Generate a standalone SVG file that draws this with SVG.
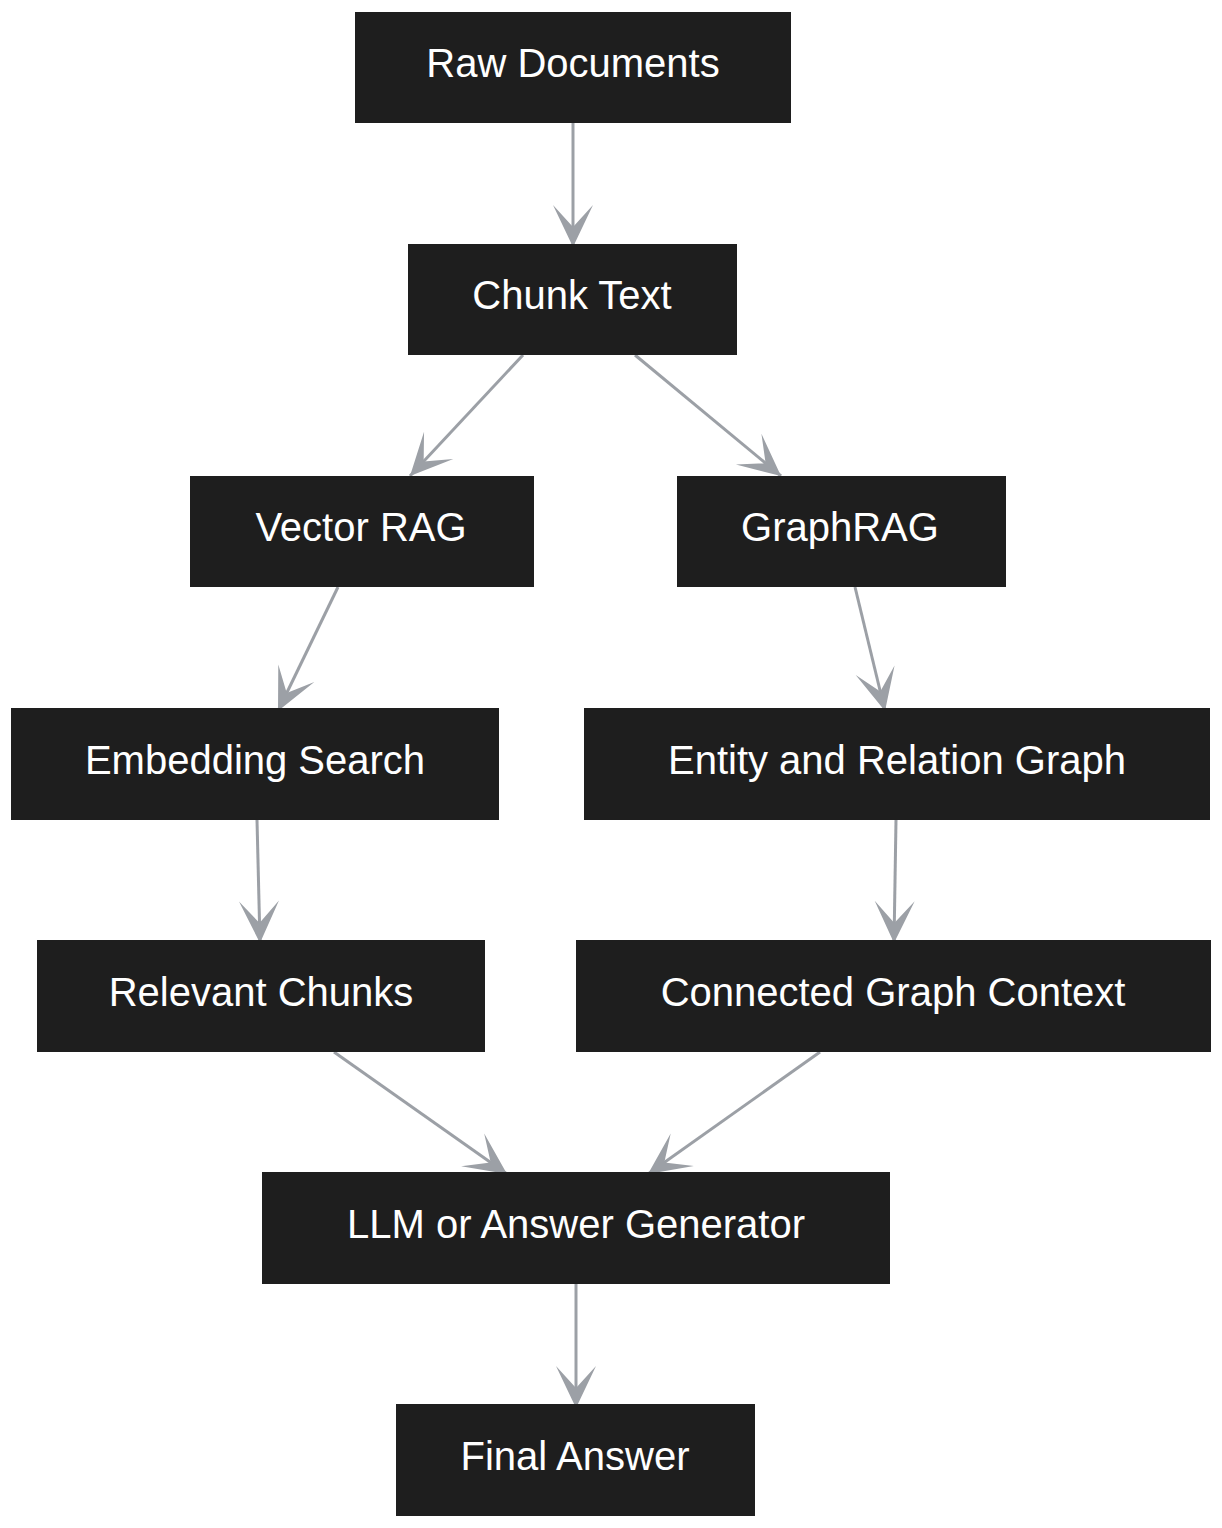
<svg xmlns="http://www.w3.org/2000/svg" width="1222" height="1528" viewBox="0 0 1222 1528">
<style>
.n rect{fill:#1e1e1e}
.n text{fill:#fff;font-family:"Liberation Sans",Arial,sans-serif;font-size:40px;text-anchor:middle;dominant-baseline:central}
.e line{stroke:#9ca0a6;stroke-width:3;marker-end:url(#v)}
</style>
<defs><marker id="v" markerUnits="userSpaceOnUse" viewBox="-44 -22 46 44" refX="0" refY="0" markerWidth="46" markerHeight="44" orient="auto"><path d="M0,0 L-42,-20 L-20,0 L-42,20 Z" fill="#9ca0a6"/></marker></defs>
<rect width="1222" height="1528" fill="#fff"/>
<g class="e">
<line x1="573" y1="123" x2="573" y2="247"/>
<line x1="523" y1="355" x2="410" y2="476"/>
<line x1="635" y1="355" x2="781" y2="476"/>
<line x1="338" y1="587" x2="278" y2="711"/>
<line x1="855" y1="587" x2="885" y2="711"/>
<line x1="257" y1="820" x2="260" y2="943"/>
<line x1="896" y1="820" x2="894" y2="943"/>
<line x1="334" y1="1052" x2="507" y2="1174"/>
<line x1="820" y1="1052" x2="648" y2="1174"/>
<line x1="576" y1="1284" x2="576" y2="1408"/>
</g>
<g id="raw" class="n"><rect x="355" y="12" width="436" height="111"/><text x="573" y="63">Raw Documents</text></g>
<g id="chunk" class="n"><rect x="408" y="244" width="329" height="111"/><text x="572" y="295">Chunk Text</text></g>
<g id="vector" class="n"><rect x="190" y="476" width="344" height="111"/><text x="361" y="527">Vector RAG</text></g>
<g id="graphrag" class="n"><rect x="677" y="476" width="329" height="111"/><text x="840" y="527">GraphRAG</text></g>
<g id="embed" class="n"><rect x="11" y="708" width="488" height="112"/><text x="255" y="760">Embedding Search</text></g>
<g id="entity" class="n"><rect x="584" y="708" width="626" height="112"/><text x="897" y="760">Entity and Relation Graph</text></g>
<g id="relevant" class="n"><rect x="37" y="940" width="448" height="112"/><text x="261" y="992">Relevant Chunks</text></g>
<g id="connected" class="n"><rect x="576" y="940" width="635" height="112"/><text x="893" y="992">Connected Graph Context</text></g>
<g id="llm" class="n"><rect x="262" y="1172" width="628" height="112"/><text x="576" y="1224">LLM or Answer Generator</text></g>
<g id="final" class="n"><rect x="396" y="1404" width="359" height="112"/><text x="575" y="1456">Final Answer</text></g>
</svg>
